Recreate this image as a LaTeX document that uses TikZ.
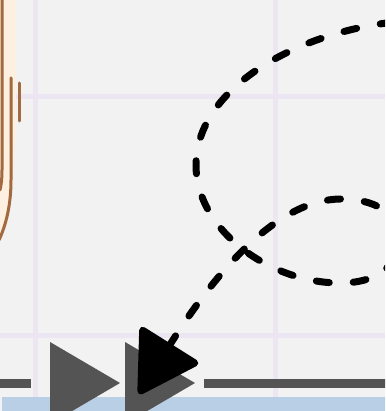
\documentclass[tikz,border=0pt]{standalone}
\usetikzlibrary{arrows.meta}

\definecolor{paper}{HTML}{F2F2F2}
\definecolor{gridlav}{HTML}{ECE6F2}
\definecolor{peach}{HTML}{FDF0E0}
\definecolor{bark}{HTML}{A26A3E}
\definecolor{rail}{HTML}{545454}
\definecolor{band}{HTML}{B8CFE6}

\tikzset{
  gridline/.style={gridlav, line width=5pt, line cap=butt},
  stem/.style={bark, line width=3pt},
  railline/.style={rail, line width=9pt, line cap=butt},
  loopy/.style={line width=7pt, dash pattern=on 13pt off 24pt,
    -{Triangle[length=63pt, width=72pt, round]}},
}

\begin{document}
\begin{tikzpicture}[x=1pt, y=-1pt, line join=round, line cap=round]
      \useasboundingbox (0,0) rectangle (385,411);
      \clip (0,0) rectangle (385,411);
      \fill[paper] (0,0) rectangle (385,411);

      % grid
      \draw[gridline] (35,0) -- (35,397);
      \draw[gridline] (275,0) -- (275,397);
      \draw[gridline] (0,97) -- (385,97);
      \draw[gridline] (0,335) -- (385,335);

      % leaf on the left
      \fill[peach] (0,-5) -- (16,-5) -- (16,130)
        .. controls (14,170) and (12,215) .. (0,242) -- cycle;
      \draw[stem] (2,-5) -- (2,170) .. controls (2,180) and (1,186) .. (0,190);
      \draw[stem] (11,78) -- (11,180) .. controls (11,205) and (6,225) .. (-1,240);
      \draw[stem] (19,83) -- (19,121);

      % track at the bottom
      \fill[band] (2,397) rectangle (390,420);
      \draw[railline] (-5,383) -- (31,383);
      \draw[railline] (204,383) -- (390,383);
      \fill[rail] (50,342) -- (120,383) -- (50,424) -- cycle;
      \fill[rail] (125,342) -- (195,383) -- (125,424) -- cycle;

      % the dashed loop
      \coordinate (S) at (430,20);
      \coordinate (L) at (196,165);
      \coordinate (B) at (340,283);
      \coordinate (R) at (398,240);
      \coordinate (T) at (340,199);
      \coordinate (E) at (139,394);

      \draw[loopy] (S) .. controls (320,20) and (196,80) .. (L)
        .. controls (196,230) and (270,283) .. (B)
        .. controls (375,283) and (398,268) .. (R)
        .. controls (398,212) and (375,199) .. (T)
        .. controls (280,200) and (220,265) .. (E);
    \end{tikzpicture}
\end{document}
